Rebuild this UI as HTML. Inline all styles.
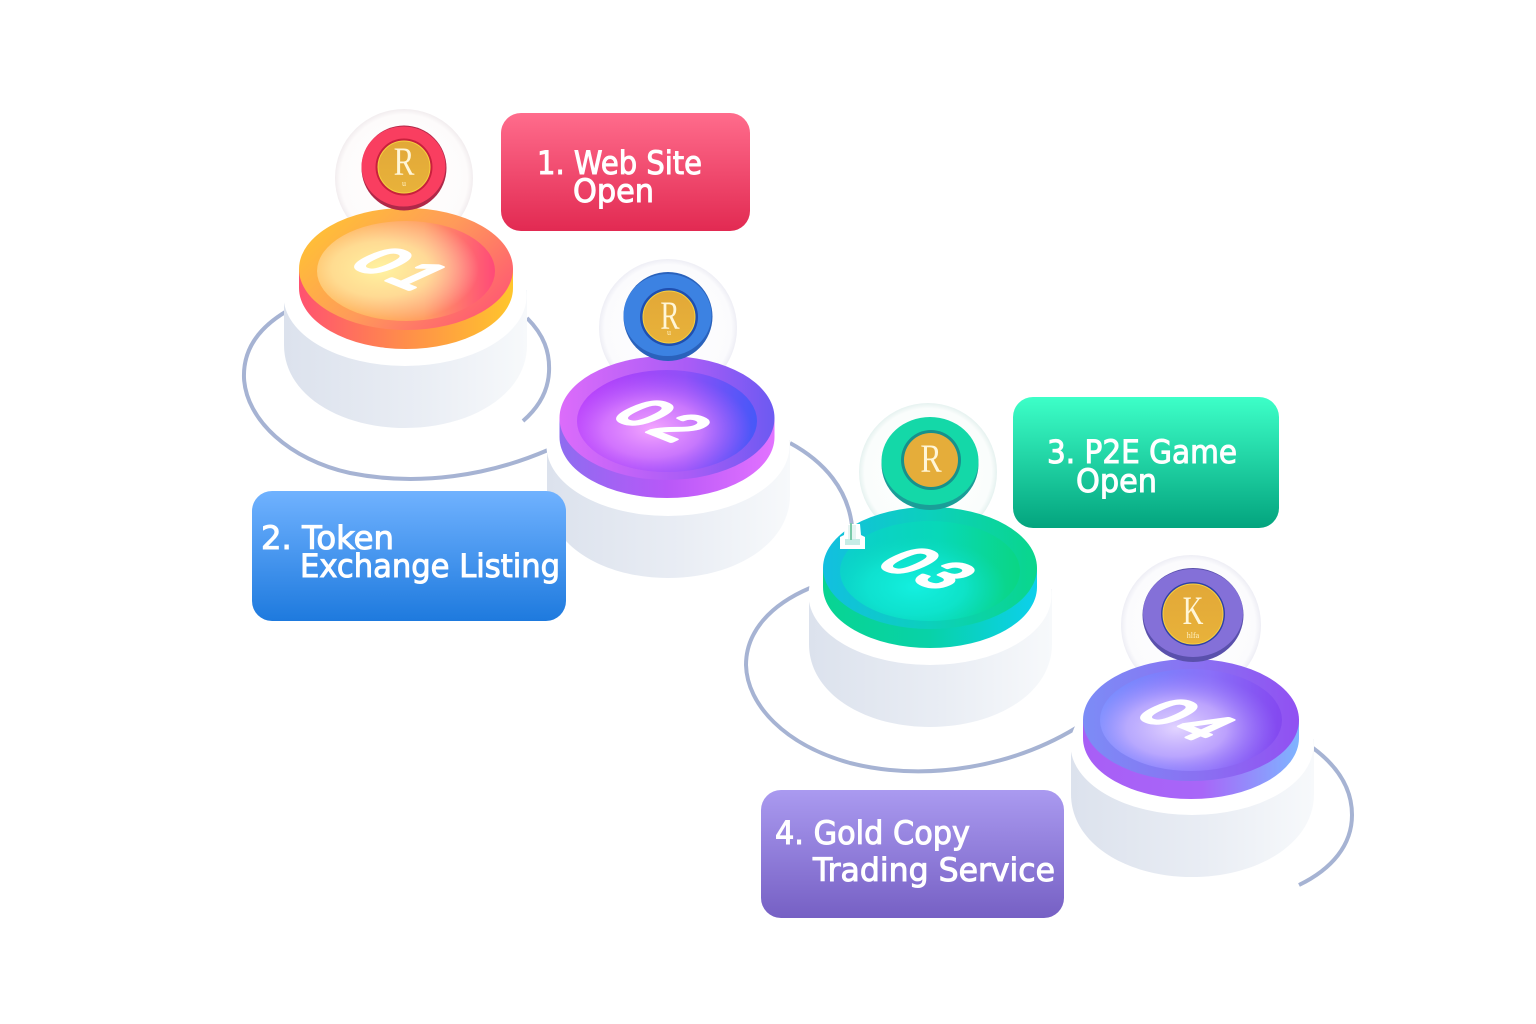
<!DOCTYPE html>
<html><head><meta charset="utf-8"><style>
html,body{margin:0;padding:0;background:#fff;width:1536px;height:1024px;overflow:hidden}
svg{display:block}
.lb{font-family:"DejaVu Sans","Liberation Sans",sans-serif;font-size:32px;fill:#fff;font-weight:400;stroke:#fff;stroke-width:1}
.num{font-family:"Liberation Sans",sans-serif;font-size:50px;font-weight:400;letter-spacing:6px;fill:#fff;text-anchor:middle;stroke:#fff;stroke-width:3.5;stroke-linejoin:round}
.r{font-family:"Liberation Serif",serif;font-size:40px;fill:#fff6d8;text-anchor:middle}
.s{font-family:"Liberation Serif",serif;font-size:8px;fill:#fff0c0;text-anchor:middle}
</style></head><body>
<svg width="1536" height="1024" viewBox="0 0 1536 1024" xmlns="http://www.w3.org/2000/svg">
<defs>
<linearGradient id="base" x1="0" x2="1" y1="0" y2="0"><stop offset="0" stop-color="#dce2ed"/><stop offset=".55" stop-color="#e9edf4"/><stop offset="1" stop-color="#f7f9fb"/></linearGradient>
<radialGradient id="h1" cx=".5" cy=".5" r=".5"><stop offset="0" stop-color="#fff"/><stop offset=".92" stop-color="#fdfbfb"/><stop offset="1" stop-color="#f2edef"/></radialGradient>
<radialGradient id="h2" cx=".5" cy=".5" r=".5"><stop offset="0" stop-color="#fff"/><stop offset=".92" stop-color="#fbfbfd"/><stop offset="1" stop-color="#eeeef5"/></radialGradient>
<radialGradient id="h3" cx=".5" cy=".5" r=".5"><stop offset="0" stop-color="#fff"/><stop offset=".92" stop-color="#fafdfc"/><stop offset="1" stop-color="#e6f2f0"/></radialGradient>
<g id="bs">
<path d="M284 290V345C284 395 340 428 405 428S527 395 527 345V290Z" fill="url(#base)"/>
<ellipse cx="405" cy="296" rx="121.500" ry="70" fill="#fff"/>
</g>
<linearGradient id="c1" x1="0" x2="1" y1=".2" y2=".8"><stop offset="0" stop-color="#ffc333"/><stop offset=".5" stop-color="#ff9a5a"/><stop offset="1" stop-color="#ff5474"/></linearGradient>
<linearGradient id="c1s"><stop offset="0" stop-color="#ff5270"/><stop offset=".5" stop-color="#ff8e4a"/><stop offset="1" stop-color="#ffc62c"/></linearGradient>
<linearGradient id="c1i"><stop offset="0" stop-color="#ffb02e"/><stop offset=".6" stop-color="#ff9e62"/><stop offset="1" stop-color="#ff4a78"/></linearGradient>
<radialGradient id="c1o" cx=".36" cy=".48" r=".55"><stop offset="0" stop-color="#fff3a0"/><stop offset=".5" stop-color="#ffe4a0" stop-opacity=".85"/><stop offset="1" stop-color="#ffd8c8" stop-opacity="0"/></radialGradient>
<linearGradient id="c2" x1="0" x2="1"><stop offset="0" stop-color="#dc6cfa"/><stop offset=".6" stop-color="#a95cf6"/><stop offset="1" stop-color="#6c5af2"/></linearGradient>
<linearGradient id="c2s"><stop offset="0" stop-color="#8e6cf0"/><stop offset=".5" stop-color="#b858f8"/><stop offset="1" stop-color="#e272ff"/></linearGradient>
<linearGradient id="c2i"><stop offset="0" stop-color="#b93cfb"/><stop offset=".6" stop-color="#9050f8"/><stop offset="1" stop-color="#4658f8"/></linearGradient>
<radialGradient id="c2o" cx=".42" cy=".58" r=".55"><stop offset="0" stop-color="#f4a6ff"/><stop offset=".5" stop-color="#e288ff" stop-opacity=".7"/><stop offset="1" stop-color="#c060ff" stop-opacity="0"/></radialGradient>
<linearGradient id="c3" x1="0" x2="1"><stop offset="0" stop-color="#12bfe0"/><stop offset=".5" stop-color="#0cd0bc"/><stop offset="1" stop-color="#0ad68c"/></linearGradient>
<linearGradient id="c3s"><stop offset="0" stop-color="#08d492"/><stop offset=".5" stop-color="#08d2a8"/><stop offset="1" stop-color="#0cd0ec"/></linearGradient>
<linearGradient id="c3i"><stop offset="0" stop-color="#0ccfcc"/><stop offset=".55" stop-color="#08d8b8"/><stop offset="1" stop-color="#0ad684"/></linearGradient>
<radialGradient id="c3o" cx=".42" cy=".66" r=".5"><stop offset="0" stop-color="#14f0e0"/><stop offset=".55" stop-color="#10e8d4" stop-opacity=".7"/><stop offset="1" stop-color="#0cdcc0" stop-opacity="0"/></radialGradient>
<linearGradient id="c4" x1="0" x2="1"><stop offset="0" stop-color="#7c8cf6"/><stop offset=".55" stop-color="#8a70f2"/><stop offset="1" stop-color="#9150f2"/></linearGradient>
<linearGradient id="c4s"><stop offset="0" stop-color="#a85ef6"/><stop offset=".55" stop-color="#a866f8"/><stop offset="1" stop-color="#7eb4ff"/></linearGradient>
<linearGradient id="c4i"><stop offset="0" stop-color="#6f90ff"/><stop offset=".6" stop-color="#8a70f8"/><stop offset="1" stop-color="#8448f0"/></linearGradient>
<radialGradient id="c4o" cx=".42" cy=".58" r=".55"><stop offset="0" stop-color="#e2d4ff"/><stop offset=".5" stop-color="#cdb4ff" stop-opacity=".75"/><stop offset="1" stop-color="#a080ff" stop-opacity="0"/></radialGradient>
<linearGradient id="l1" x1="0" x2="0" y1="0" y2="1"><stop offset="0" stop-color="#ff6c8c"/><stop offset="1" stop-color="#e22a52"/></linearGradient>
<linearGradient id="l2" x1="0" x2="0" y1="0" y2="1"><stop offset="0" stop-color="#70b2ff"/><stop offset="1" stop-color="#1e7ade"/></linearGradient>
<linearGradient id="l3" x1="0" x2="0" y1="0" y2="1"><stop offset="0" stop-color="#3dffc8"/><stop offset="1" stop-color="#03a47e"/></linearGradient>
<linearGradient id="l4" x1="0" x2="0" y1="0" y2="1"><stop offset="0" stop-color="#aa9af0"/><stop offset="1" stop-color="#7660c4"/></linearGradient>
<linearGradient id="coin" x1="0" x2="0" y1="0" y2="1"><stop offset="0" stop-color="#e2a838"/><stop offset="1" stop-color="#e8b23a"/></linearGradient>
</defs>
<rect width="1536" height="1024" fill="#fff"/>

<g fill="none" stroke="#a6b3d3" stroke-width="4">
<path d="M287 311C258 328 243 350 244 378C246 420 290 460 350 473C420 487 490 475 548 450"/>
<path d="M527 318C544 335 550 352 549 372C548 392 538 408 523 421"/>
<path d="M790 443C825 462 848 490 852 526"/>
<path d="M810 588C770 605 746 632 746 665C747 705 785 745 850 763C930 783 1015 765 1076 728"/>
<path d="M1313 748C1340 768 1352 790 1352 815C1352 845 1332 869 1299 885"/>
</g>

<!-- P1 -->
<use href="#bs"/>
<circle cx="404" cy="178" r="69" fill="url(#h1)"/>
<ellipse cx="406" cy="288" rx="107" ry="61" fill="url(#c1s)"/>
<rect x="299" y="269" width="214" height="19" fill="url(#c1s)"/>
<ellipse cx="406" cy="269" rx="107" ry="61" fill="url(#c1)"/>
<ellipse cx="406" cy="271" rx="89" ry="50" fill="url(#c1i)"/>
<ellipse cx="406" cy="271" rx="89" ry="50" fill="url(#c1o)"/>
<text class="num" transform="matrix(1.05 .42 -1.2 .55 383 279)">01</text>
<circle cx="404" cy="168" r="42.500" fill="#b02848"/>
<ellipse cx="403.500" cy="166.500" rx="42" ry="40" fill="#f93e60"/>
<circle cx="404" cy="167" r="28.500" fill="#c8203c"/>
<circle cx="404" cy="167" r="26" fill="url(#coin)" stroke="#f5d040" stroke-width="1"/>
<text class="r" transform="matrix(.78 0 0 1 404 175)">R</text><text class="s" x="404" y="186">u</text>

<!-- P2 -->
<use href="#bs" transform="translate(263 150)"/>
<circle cx="668" cy="328" r="69" fill="url(#h2)"/>
<ellipse cx="667" cy="437" rx="107.500" ry="61" fill="url(#c2s)"/>
<rect x="559.500" y="418" width="215" height="19" fill="url(#c2s)"/>
<ellipse cx="667" cy="418" rx="107.500" ry="62" fill="url(#c2)"/>
<ellipse cx="667" cy="421" rx="90" ry="51" fill="url(#c2i)"/>
<ellipse cx="667" cy="421" rx="90" ry="51" fill="url(#c2o)"/>
<text class="num" transform="matrix(1.05 .42 -1.2 .55 645 431)">02</text>
<circle cx="668" cy="316.500" r="44.500" fill="#2a62bc"/>
<ellipse cx="667.500" cy="315" rx="44" ry="41" fill="#3c82e2"/>
<circle cx="669" cy="317" r="29" fill="#1f4fb0"/>
<circle cx="669" cy="317" r="26" fill="url(#coin)" stroke="#f5d040" stroke-width="1"/>
<text class="r" transform="matrix(.72 0 0 1 670 329)">R</text><text class="s" x="669" y="335">u</text>

<!-- P3 -->
<use href="#bs" transform="translate(525 299)"/>
<circle cx="928" cy="472" r="69" fill="url(#h3)"/>
<ellipse cx="930" cy="587" rx="107" ry="61" fill="url(#c3s)"/>
<rect x="823" y="568" width="214" height="19" fill="url(#c3s)"/>
<ellipse cx="930" cy="568" rx="107" ry="61" fill="url(#c3)"/>
<ellipse cx="930" cy="571" rx="90" ry="50" fill="url(#c3i)"/>
<ellipse cx="930" cy="571" rx="90" ry="50" fill="url(#c3o)"/>
<text class="num" transform="matrix(1.05 .42 -1.2 .55 910 579)">03</text>
<ellipse cx="930" cy="464" rx="48.500" ry="46" fill="#1a9e98"/>
<ellipse cx="930" cy="461" rx="48.500" ry="44" fill="#14d8a8"/>
<circle cx="931" cy="460" r="30" fill="#17908c"/>
<circle cx="931" cy="460" r="27" fill="#e5ad3a"/>
<text class="r" transform="matrix(.8 0 0 1 931 472)">R</text>

<path d="M845 524H860L861 535L865 537V549H840V537L844 535Z" fill="#fff"/>
<rect x="845" y="539" width="15" height="6" fill="#c6ece6"/>
<rect x="848" y="525" width="8" height="14" fill="#e6f4f2"/>
<line x1="851" y1="523" x2="851" y2="540" stroke="#79c9a8" stroke-width="2"/>

<!-- P4 -->
<use href="#bs" transform="translate(787 449)"/>
<ellipse cx="1191" cy="625" rx="70" ry="70" fill="url(#h2)"/>
<ellipse cx="1191" cy="738" rx="108" ry="61" fill="url(#c4s)"/>
<rect x="1083" y="719" width="216" height="19" fill="url(#c4s)"/>
<ellipse cx="1191" cy="720" rx="108" ry="61" fill="url(#c4)"/>
<ellipse cx="1191" cy="720" rx="91" ry="51" fill="url(#c4i)"/>
<ellipse cx="1191" cy="720" rx="91" ry="51" fill="url(#c4o)"/>
<text class="num" transform="matrix(1.05 .42 -1.2 .55 1169 730)">04</text>
<ellipse cx="1193" cy="615" rx="50.500" ry="47" fill="#5a50ac"/>
<ellipse cx="1193" cy="613" rx="50" ry="44" fill="#8470d8"/>
<ellipse cx="1193" cy="614" rx="32" ry="32" fill="#2f40a8"/>
<ellipse cx="1193" cy="614" rx="30" ry="30" fill="url(#coin)" stroke="#f5d040" stroke-width="1"/>
<text class="r" transform="matrix(.72 0 0 1 1193 624)">K</text><text class="s" x="1193" y="638">hlfa</text>

<!-- Labels -->
<rect x="501" y="113" width="249" height="118" rx="20" fill="url(#l1)"/>
<text class="lb" x="537" y="174" textLength="165" lengthAdjust="spacingAndGlyphs">1. Web Site</text>
<text class="lb" x="573" y="202" textLength="81" lengthAdjust="spacingAndGlyphs">Open</text>

<rect x="252" y="491" width="314" height="130" rx="20" fill="url(#l2)"/>
<text class="lb" x="261" y="549" textLength="133" lengthAdjust="spacingAndGlyphs">2. Token</text>
<text class="lb" x="300" y="577" textLength="260" lengthAdjust="spacingAndGlyphs">Exchange Listing</text>

<rect x="1013" y="397" width="266" height="131" rx="20" fill="url(#l3)"/>
<text class="lb" x="1047" y="463" textLength="190" lengthAdjust="spacingAndGlyphs">3. P2E Game</text>
<text class="lb" x="1076" y="492" textLength="81" lengthAdjust="spacingAndGlyphs">Open</text>

<rect x="761" y="790" width="303" height="128" rx="20" fill="url(#l4)"/>
<text class="lb" x="775" y="844" textLength="195" lengthAdjust="spacingAndGlyphs">4. Gold Copy</text>
<text class="lb" x="813" y="881" textLength="242" lengthAdjust="spacingAndGlyphs">Trading Service</text>
</svg>
</body></html>
